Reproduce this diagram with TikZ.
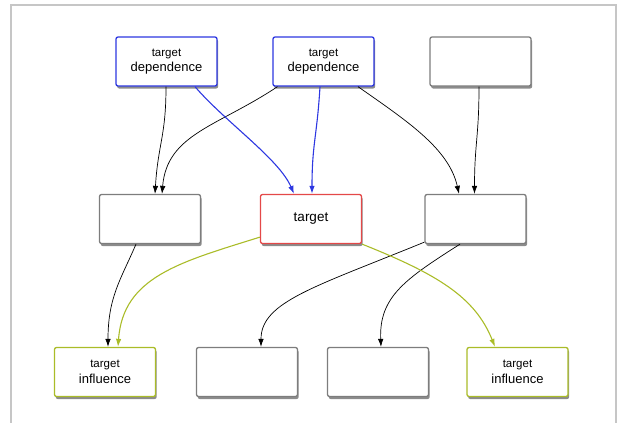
\documentclass[tikz,border=0pt]{standalone}
\usepackage{fontspec}
\setmainfont{Liberation Sans}
\usetikzlibrary{arrows.meta,shadows}
\definecolor{depblue}{RGB}{45,55,225}
\definecolor{tgtred}{RGB}{228,72,72}
\definecolor{infolive}{RGB}{170,188,40}
\definecolor{boxgray}{RGB}{125,125,125}
\newcommand{\twoline}[2]{{\fontsize{11.5}{13}\selectfont #1}\\#2}
\begin{document}
\begin{tikzpicture}[x=1pt,y=-1pt,
    box/.style={draw=boxgray,line width=1.3pt,fill=white,rounded corners=2pt,
      minimum width=101pt,minimum height=49pt,inner sep=0pt,align=center,
      font=\fontsize{13}{15.5}\selectfont,
      drop shadow={shadow xshift=1.2pt,shadow yshift=-2.5pt,opacity=0.45,fill=black}},
    dep/.style={box,draw=depblue},
    tgt/.style={box,draw=tgtred,font=\fontsize{13.5}{15}\selectfont},
    inf/.style={box,draw=infolive},
    link/.style={-{Latex[length=8pt,width=5.5pt]},line width=0.7pt}]
  \useasboundingbox (0,0) rectangle (619,423);
  % page frame
  \draw[gray!45,line width=1.5pt] (11,425) -- (11,5) -- (616,5) -- (616,425);
  % nodes
  \node[dep] (dep1) at (166.5,61.5) {\twoline{target}{dependence}};
  \node[dep] (dep2) at (323.5,61.5) {\twoline{target}{dependence}};
  \node[box] (src3) at (480.5,61.5) {};
  \node[box] (mid1) at (150,219) {};
  \node[tgt] (tgt)  at (311,219) {target};
  \node[box] (mid3) at (475.5,219) {};
  \node[inf] (inf1) at (105,372) {\twoline{target}{influence}};
  \node[box] (out2) at (247,372) {};
  \node[box] (out3) at (378,372) {};
  \node[inf] (inf4) at (517.5,372) {\twoline{target}{influence}};
  % edges
  \begin{scope}[link]
    \draw ([xshift=-0.5pt]dep1.south) .. controls +(0,50) and +(3,-50) .. ([xshift=5pt]mid1.north);
    \draw ([xshift=-46pt]dep2.south) .. controls +(-60,40) and +(5,-60) .. ([xshift=12pt]mid1.north);
    \draw ([xshift=34.5pt]dep2.south) .. controls +(50,35) and +(-10,-45) .. ([xshift=-16.5pt]mid3.north);
    \draw ([xshift=-1.5pt]src3.south) .. controls +(0,50) and +(0,-50) .. ([xshift=-1pt]mid3.north);
    \draw ([xshift=-14pt]mid1.south) .. controls +(-15,35) and +(0,-50) .. ([xshift=3pt]inf1.north);
    \draw ([yshift=2pt]mid3.south west) .. controls +(-110,45) and +(0,-45) .. ([xshift=14pt]out2.north);
    \draw ([xshift=-15.5pt]mid3.south) .. controls +(-55,35) and +(-2,-50) .. ([xshift=3pt]out3.north);
  \end{scope}
  \begin{scope}[link,line width=1.1pt]
    \draw[depblue] ([xshift=28.5pt]dep1.south) .. controls +(30,35) and +(-15,-35) .. ([xshift=-17pt]tgt.north);
    \draw[depblue] ([xshift=-3.5pt]dep2.south) .. controls +(-3,50) and +(0,-50) .. ([xshift=1pt]tgt.north);
    \draw[infolive] ([yshift=7pt]tgt.south west) .. controls +(-80,25) and +(5,-70) .. ([xshift=13pt]inf1.north);
    \draw[infolive] (tgt.south east) .. controls +(75,30) and +(-20,-50) .. ([xshift=-22.5pt]inf4.north);
  \end{scope}
\end{tikzpicture}
\end{document}
